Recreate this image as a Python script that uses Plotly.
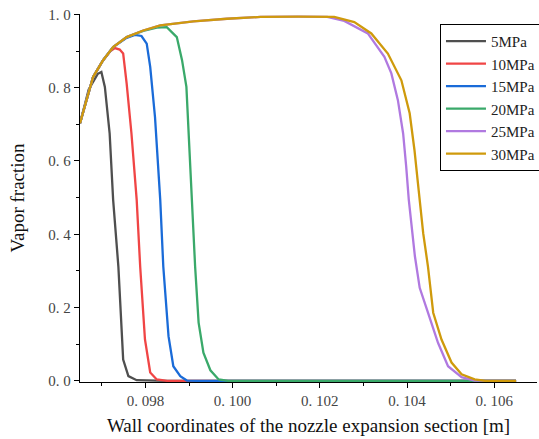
import plotly.graph_objects as go

# ---- data ----
names = ["5MPa", "10MPa", "15MPa", "20MPa", "25MPa", "30MPa"]
colors = ["#4f4f4f", "#f04545", "#1a6bd8", "#3aa96a", "#b079e0", "#cf9a0c"]

x_5 = [0.0965, 0.0967, 0.09691, 0.09699, 0.09707, 0.09718, 0.09726, 0.09738, 0.09749, 0.09761, 0.0978, 0.0985, 0.1065]
y_5 = [0.703, 0.795, 0.838, 0.843, 0.802, 0.675, 0.494, 0.312, 0.058, 0.013, 0.002, 0.0, 0.0]

x_10 = [0.0965, 0.0968, 0.09703, 0.0972, 0.0973, 0.09741, 0.09749, 0.09757, 0.09768, 0.0978, 0.09788, 0.09799, 0.09811, 0.09826, 0.0985, 0.1065]
y_10 = [0.703, 0.829, 0.875, 0.900, 0.908, 0.904, 0.893, 0.811, 0.675, 0.494, 0.312, 0.113, 0.023, 0.004, 0.0, 0.0]

x_15 = [0.0965, 0.0968, 0.09703, 0.09726, 0.09757, 0.09776, 0.09791, 0.09803, 0.09811, 0.09822, 0.09834, 0.09841, 0.09853, 0.09864, 0.0988, 0.09895, 0.0992, 0.1065]
y_15 = [0.703, 0.829, 0.875, 0.911, 0.936, 0.944, 0.941, 0.920, 0.857, 0.720, 0.494, 0.312, 0.122, 0.040, 0.013, 0.001, 0.0, 0.0]

x_20 = [0.0965, 0.0968, 0.09703, 0.09726, 0.09757, 0.09795, 0.09826, 0.09849, 0.09872, 0.09884, 0.09894, 0.09899, 0.09907, 0.09914, 0.09922, 0.09933, 0.09949, 0.09968, 0.0999, 0.1065]
y_20 = [0.703, 0.829, 0.875, 0.911, 0.938, 0.955, 0.964, 0.965, 0.938, 0.875, 0.802, 0.675, 0.494, 0.312, 0.159, 0.077, 0.029, 0.004, 0.0, 0.0]

x_25 = [0.0965, 0.0968, 0.09703, 0.09726, 0.09757, 0.09795, 0.09834, 0.0991, 0.09987, 0.10064, 0.1015, 0.10217, 0.10256, 0.1031, 0.10348, 0.10364, 0.10379, 0.10391, 0.10398, 0.10404, 0.10418, 0.10429, 0.10448, 0.10471, 0.10494, 0.10525, 0.10555, 0.1065]
y_25 = [0.703, 0.829, 0.875, 0.911, 0.938, 0.956, 0.970, 0.981, 0.988, 0.993, 0.994, 0.993, 0.982, 0.948, 0.884, 0.839, 0.766, 0.675, 0.585, 0.494, 0.340, 0.254, 0.186, 0.104, 0.040, 0.010, 0.001, 0.0]

x_30 = [0.0965, 0.0968, 0.09703, 0.09726, 0.09757, 0.09795, 0.09834, 0.0991, 0.09987, 0.10064, 0.1015, 0.10233, 0.10279, 0.10318, 0.10356, 0.10387, 0.10406, 0.10417, 0.10425, 0.10437, 0.10448, 0.1046, 0.10479, 0.10502, 0.10525, 0.10555, 0.1058, 0.1065]
y_30 = [0.703, 0.829, 0.875, 0.911, 0.938, 0.956, 0.970, 0.981, 0.988, 0.993, 0.994, 0.993, 0.979, 0.948, 0.893, 0.820, 0.730, 0.630, 0.539, 0.403, 0.312, 0.186, 0.113, 0.050, 0.018, 0.004, 0.0, 0.0]

xs = [x_5, x_10, x_15, x_20, x_25, x_30]
ys = [y_5, y_10, y_15, y_20, y_25, y_30]

x_tickvals = [0.098, 0.100, 0.102, 0.104, 0.106]
x_ticktext = ["0. 098", "0. 100", "0. 102", "0. 104", "0. 106"]
x_minorvals = [0.097, 0.099, 0.101, 0.103, 0.105]
y_tickvals = [0.0, 0.2, 0.4, 0.6, 0.8, 1.0]
y_ticktext = ["0. 0", "0. 2", "0. 4", "0. 6", "0. 8", "1. 0"]
y_minorvals = [0.1, 0.3, 0.5, 0.7, 0.9]

serif = "Liberation Serif, Times New Roman, serif"

fig = go.Figure()
for n, c, x, y in zip(names, colors, xs, ys):
    fig.add_trace(go.Scatter(x=x, y=y, mode="lines", name=n,
                             line=dict(color=c, width=2.3)))

fig.update_layout(
    width=539, height=439,
    margin=dict(l=80, r=2, t=14, b=57, autoexpand=False),
    paper_bgcolor="white", plot_bgcolor="white",
    font=dict(family=serif, color="#333333"),
    showlegend=True,
    legend=dict(x=0.7877, y=0.973, xanchor="left", yanchor="top",
                bordercolor="black", borderwidth=1, bgcolor="white",
                font=dict(family=serif, size=15, color="#222222"),
                itemwidth=40, tracegroupgap=0),
)
fig.update_xaxes(
    range=[0.0965, 0.10698], showgrid=False, zeroline=False, automargin=False,
    showline=True, linecolor="black", linewidth=1.3,
    tickmode="array", tickvals=x_tickvals, ticktext=x_ticktext,
    ticks="outside", ticklen=5, tickwidth=1.3, tickcolor="black",
    tickfont=dict(family=serif, size=15, color="#444444"),
    minor=dict(tickmode="array", tickvals=x_minorvals, ticks="outside",
               ticklen=3, tickwidth=1.3, tickcolor="black", showgrid=False),
    title=dict(text="Wall coordinates of the nozzle expansion section [m]",
               font=dict(family=serif, size=19, color="#111111"), standoff=10),
)
fig.update_yaxes(
    range=[-0.003, 1.001], showgrid=False, zeroline=False, automargin=False,
    showline=True, linecolor="black", linewidth=1.3,
    tickmode="array", tickvals=y_tickvals, ticktext=y_ticktext,
    ticks="outside", ticklen=5, tickwidth=1.3, tickcolor="black",
    tickfont=dict(family=serif, size=15, color="#444444"),
    minor=dict(tickmode="array", tickvals=y_minorvals, ticks="outside",
               ticklen=3, tickwidth=1.3, tickcolor="black", showgrid=False),
    title=dict(text="Vapor fraction",
               font=dict(family=serif, size=19, color="#111111"), standoff=18),
)

# remove the page's default 8px body margin so the figure fills the window
fig.write_html("out.html", config={"displayModeBar": False},
               post_script="document.body.style.margin='0';")
